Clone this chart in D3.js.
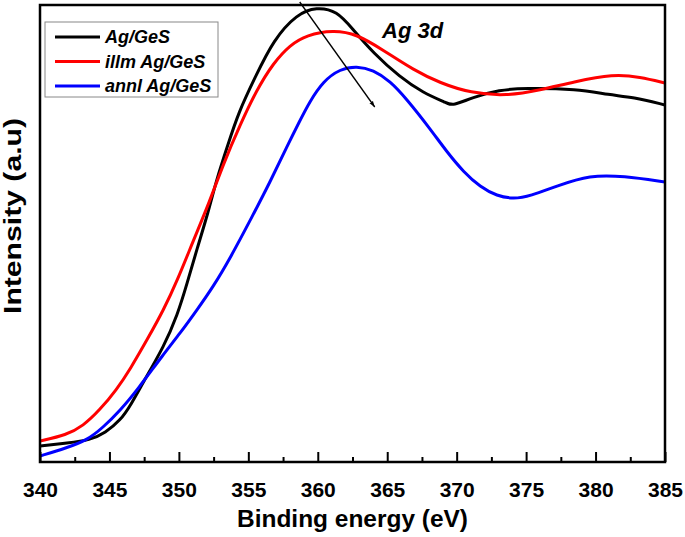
<!DOCTYPE html>
<html lang="en">
<head>
<meta charset="UTF-8">
<title>Ag 3d</title>
<script src="https://d3js.org/d3.v7.min.js"></script>
<style>
  body { margin: 0; background: #fff; }
  svg { display: block; font-family: Arial, "Liberation Sans", sans-serif; }
</style>
</head>
<body>
<svg width="685" height="537"></svg>
<script>
    // binding energy (eV) / intensity (a.u.)
    const agX = [340.0, 342.0, 343.6, 344.7, 345.8, 346.5, 347.6, 348.9, 349.9, 350.6, 351.3, 352.1, 352.7, 353.5, 354.3, 355.5, 356.8, 358.5, 359.9, 361.4, 362.5, 364.0, 365.9, 367.6, 369.3, 369.7, 371.2, 373.1, 374.8, 378.7, 381.0, 382.7, 385.0];
    const agY = [16, 19, 22, 29, 42, 56, 84, 115, 147, 179, 213, 249, 282, 316, 350, 385, 422, 448, 455, 451, 433, 409, 385, 369, 359, 356, 365, 372, 374, 373, 367, 365, 357];

    const illmX = [340.0, 341.9, 343.1, 344.3, 345.5, 346.5, 347.7, 348.9, 349.9, 351.0, 352.2, 353.2, 354.4, 355.6, 356.8, 358.0, 359.2, 361.1, 362.8, 364.7, 366.9, 368.8, 371.0, 373.6, 376.0, 378.4, 381.3, 383.2, 385.0];
    const illmY = [21, 27, 36, 52, 72, 93, 122, 152, 182, 220, 260, 298, 337, 372, 399, 417, 427, 432, 428, 412, 392, 379, 369, 366, 372, 380, 388, 385, 379];

    const annlX = [340.0, 341.9, 343.4, 344.5, 345.8, 347.0, 348.9, 350.1, 351.3, 352.5, 353.7, 355.3, 356.6, 357.8, 358.7, 359.4, 360.4, 361.6, 362.8, 364.0, 365.2, 366.4, 368.1, 369.3, 370.5, 371.7, 372.9, 374.1, 375.3, 377.2, 379.6, 382.0, 385.0];
    const annlY = [6, 14, 22, 34, 52, 72, 108, 129, 152, 176, 204, 246, 281, 316, 341, 360, 381, 393, 396, 392, 381, 363, 333, 310, 290, 275, 266, 263, 266, 276, 287, 286, 280];

    const seriesNames = ["Ag/GeS", "illm Ag/GeS", "annl Ag/GeS"];
    const seriesColors = ["#000000", "#ff0000", "#0000ff"];
    const xTicks = [340, 345, 350, 355, 360, 365, 370, 375, 380, 385];
    const xMinorTicks = [342.5, 347.5, 352.5, 357.5, 362.5, 367.5, 372.5, 377.5, 382.5];
    const arrowFrom = [358.7, 460];
    const arrowTo = [364.1, 355];

    const svg = d3.select("svg"),
        margin = {top: 5, right: 20, bottom: 75, left: 40},
        width = +svg.attr("width") - margin.left - margin.right,
        height = +svg.attr("height") - margin.top - margin.bottom,
        g = svg.append("g").attr("transform", `translate(${margin.left},${margin.top})`);

    const x = d3.scaleLinear().domain([340, 385]).range([0, width]);
    const y = d3.scaleLinear().domain([0, 457]).range([height, 0]);

    const series = [
        {name: seriesNames[0], color: seriesColors[0], values: agX.map((v, i) => ({x: v, y: agY[i]}))},
        {name: seriesNames[1], color: seriesColors[1], values: illmX.map((v, i) => ({x: v, y: illmY[i]}))},
        {name: seriesNames[2], color: seriesColors[2], values: annlX.map((v, i) => ({x: v, y: annlY[i]}))}
    ];

    const line = d3.line()
        .x(d => x(d.x))
        .y(d => y(d.y))
        .curve(d3.curveBasis);

    g.append("defs").append("clipPath").attr("id", "clip")
        .append("rect").attr("width", width).attr("height", height);

    g.selectAll(".series")
        .data(series)
        .join("path")
        .attr("class", "series")
        .attr("clip-path", "url(#clip)")
        .attr("fill", "none")
        .attr("stroke", d => d.color)
        .attr("stroke-width", 3)
        .attr("stroke-linejoin", "round")
        .attr("d", d => line(d.values));

    // ticks point inwards
    const xAxis = g.append("g")
        .attr("transform", `translate(0,${height})`)
        .call(d3.axisBottom(x).tickValues(xTicks).tickSizeInner(-10).tickSizeOuter(0).tickPadding(20));
    xAxis.select(".domain").remove();
    xAxis.selectAll("line").attr("stroke-width", 2);
    xAxis.selectAll("text")
        .attr("font-size", 21)
        .attr("font-weight", "bold")
        .attr("fill", "#000");

    const xMinor = g.append("g")
        .attr("transform", `translate(0,${height})`)
        .call(d3.axisBottom(x).tickValues(xMinorTicks).tickSizeInner(-5).tickSizeOuter(0).tickFormat(""));
    xMinor.select(".domain").remove();
    xMinor.selectAll("line").attr("stroke-width", 2);

    g.append("rect")
        .attr("width", width)
        .attr("height", height)
        .attr("fill", "none")
        .attr("stroke", "#000")
        .attr("stroke-width", 2.5);

    // arrow
    svg.append("defs").append("marker")
        .attr("id", "head")
        .attr("viewBox", "0 0 10 10")
        .attr("refX", 10).attr("refY", 5)
        .attr("markerWidth", 6).attr("markerHeight", 6)
        .attr("markerUnits", "userSpaceOnUse")
        .attr("orient", "auto")
        .append("path").attr("d", "M0,1.5L10,5L0,8.5Z").attr("fill", "#000");
    g.append("line")
        .attr("x1", x(arrowFrom[0])).attr("y1", y(arrowFrom[1]))
        .attr("x2", x(arrowTo[0])).attr("y2", y(arrowTo[1]))
        .attr("stroke", "#000")
        .attr("stroke-width", 1.3)
        .attr("marker-end", "url(#head)");

    g.append("text")
        .attr("x", 342)
        .attr("y", 33)
        .attr("font-size", 22)
        .attr("font-weight", "bold")
        .attr("font-style", "italic")
        .text("Ag 3d");

    // legend
    const legend = svg.append("g").attr("transform", "translate(45,22)");
    legend.append("rect")
        .attr("width", 173).attr("height", 75)
        .attr("fill", "#fff")
        .attr("stroke", "#888")
        .attr("stroke-width", 1);
    const item = legend.selectAll(".item")
        .data(series)
        .join("g")
        .attr("class", "item")
        .attr("transform", (d, i) => `translate(0,${15 + i * 24.5})`);
    item.append("line")
        .attr("x1", 10).attr("x2", 55)
        .attr("stroke", d => d.color)
        .attr("stroke-width", 3);
    item.append("text")
        .attr("x", 60)
        .attr("y", 6)
        .attr("font-size", 18)
        .attr("font-weight", "bold")
        .attr("font-style", "italic")
        .text(d => d.name);

    svg.append("text")
        .attr("x", margin.left + width / 2)
        .attr("y", 527)
        .attr("text-anchor", "middle")
        .attr("font-size", 24)
        .attr("font-weight", "bold")
        .attr("textLength", 231)
        .attr("lengthAdjust", "spacingAndGlyphs")
        .text("Binding energy (eV)");

    svg.append("text")
        .attr("transform", "translate(21,216) rotate(-90)")
        .attr("text-anchor", "middle")
        .attr("font-size", 24)
        .attr("font-weight", "bold")
        .attr("textLength", 196)
        .attr("lengthAdjust", "spacingAndGlyphs")
        .text("Intensity (a.u)");
</script>
</body>
</html>
